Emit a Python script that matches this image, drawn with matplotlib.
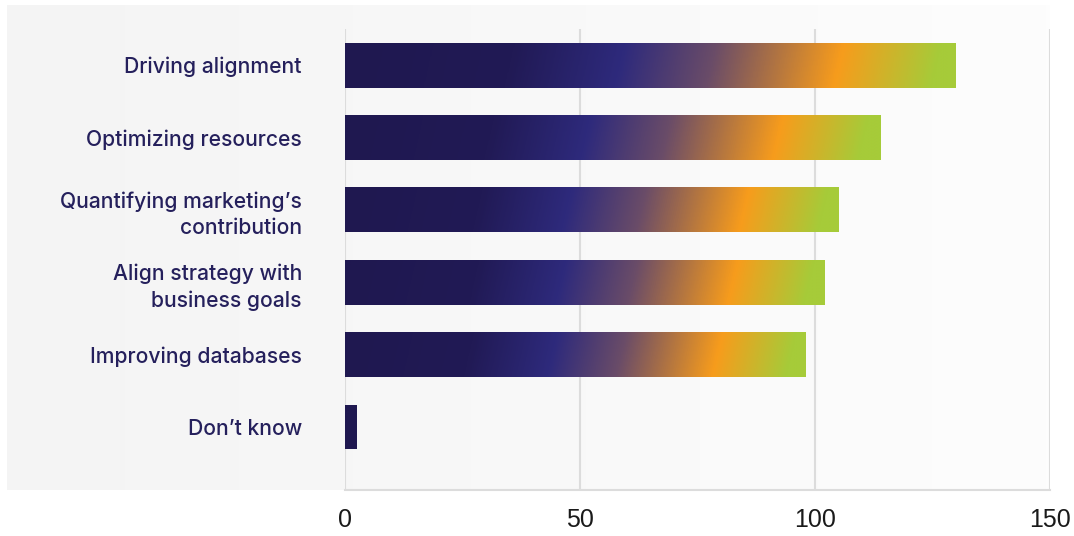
import numpy as np
import matplotlib
matplotlib.use("Agg")
import matplotlib.pyplot as plt
from matplotlib.colors import LinearSegmentedColormap

# survey answers, top to bottom
categories = [
    "Driving alignment",
    "Optimizing resources",
    "Quantifying marketing\u2019s\ncontribution",
    "Align strategy with\nbusiness goals",
    "Improving databases",
    "Don\u2019t know",
]
values = [130, 114, 105, 102, 98, 2.5]
x_ticks = [0, 50, 100, 150]

navy = "#1f1850"
label_color = "#25205c"

# bar fill: navy -> indigo -> orange -> lime
bar_cmap = LinearSegmentedColormap.from_list(
    "bar_grad",
    [(0.0, navy), (0.27, "#211a55"), (0.45, "#2e2a7c"),
     (0.60, "#6a4c68"), (0.81, "#f79c1c"), (0.97, "#a6cb39"), (1.0, "#a6cb39")],
)

W, H = 1074, 536
fig = plt.figure(figsize=(W / 100, H / 100), dpi=100)
fig.patch.set_facecolor("white")

# light panel behind the chart, fading to white on the right
bg = fig.add_axes([7 / W, (H - 490) / H, (1050 - 7) / W, (490 - 5) / H], zorder=0)
bg.imshow(np.linspace(0, 1, 256)[None, :], aspect="auto",
          cmap=LinearSegmentedColormap.from_list("bg", ["#f4f4f4", "#fdfdfd"]),
          extent=(0, 1, 0, 1))
bg.set_axis_off()

ax = fig.add_axes([345 / W, (H - 490) / H, (1050 - 345) / W, (490 - 29) / H], zorder=1)
ax.set_facecolor("none")

ypos = np.arange(len(categories))
bar_h = 0.62
bars = ax.barh(ypos, values, height=bar_h, color="none", edgecolor="none", zorder=3)

# gradient images clipped to each bar, slightly tilted
tilt = 3.5
for yc, v, bar in zip(ypos, values, bars):
    span = max(v, 90)
    xs = np.linspace(0, v, 500)
    ys = np.linspace(yc - bar_h / 2, yc + bar_h / 2, 30)
    X, Y = np.meshgrid(xs, ys)
    T = np.clip((X + tilt * (Y - yc)) / span, 0, 1)
    im = ax.imshow(T, origin="lower", extent=(0, v, yc - bar_h / 2, yc + bar_h / 2),
                   aspect="auto", cmap=bar_cmap, vmin=0, vmax=1,
                   interpolation="bilinear", zorder=3)
    im.set_clip_path(bar)

ax.set_xlim(0, 150)
ax.set_ylim(len(categories) - 1 + 0.87, -0.5)

ax.set_xticks(x_ticks)
ax.set_xticklabels([str(t) for t in x_ticks])
ax.set_yticks(ypos)
ax.set_yticklabels(categories)

ax.grid(axis="x", color="#dcdcdc", linewidth=1.5, zorder=1)
ax.set_axisbelow(True)
for side in ["top", "right", "left"]:
    ax.spines[side].set_visible(False)
ax.spines["bottom"].set_color("#dcdcdc")
ax.spines["bottom"].set_linewidth(1.5)

ax.tick_params(axis="both", length=0)
ax.tick_params(axis="x", pad=13)
ax.tick_params(axis="y", pad=31)

for lbl in ax.get_xticklabels():
    lbl.set_fontfamily(["Liberation Sans", "DejaVu Sans"])
    lbl.set_fontsize(18)
    lbl.set_color("#1a1a1a")
for lbl in ax.get_yticklabels():
    lbl.set_fontfamily(["Inter", "DejaVu Sans"])
    lbl.set_fontsize(15.2)
    lbl.set_fontweight("medium")
    lbl.set_color(label_color)
    lbl.set_linespacing(1.35)

fig.savefig("out.png", dpi=100)
